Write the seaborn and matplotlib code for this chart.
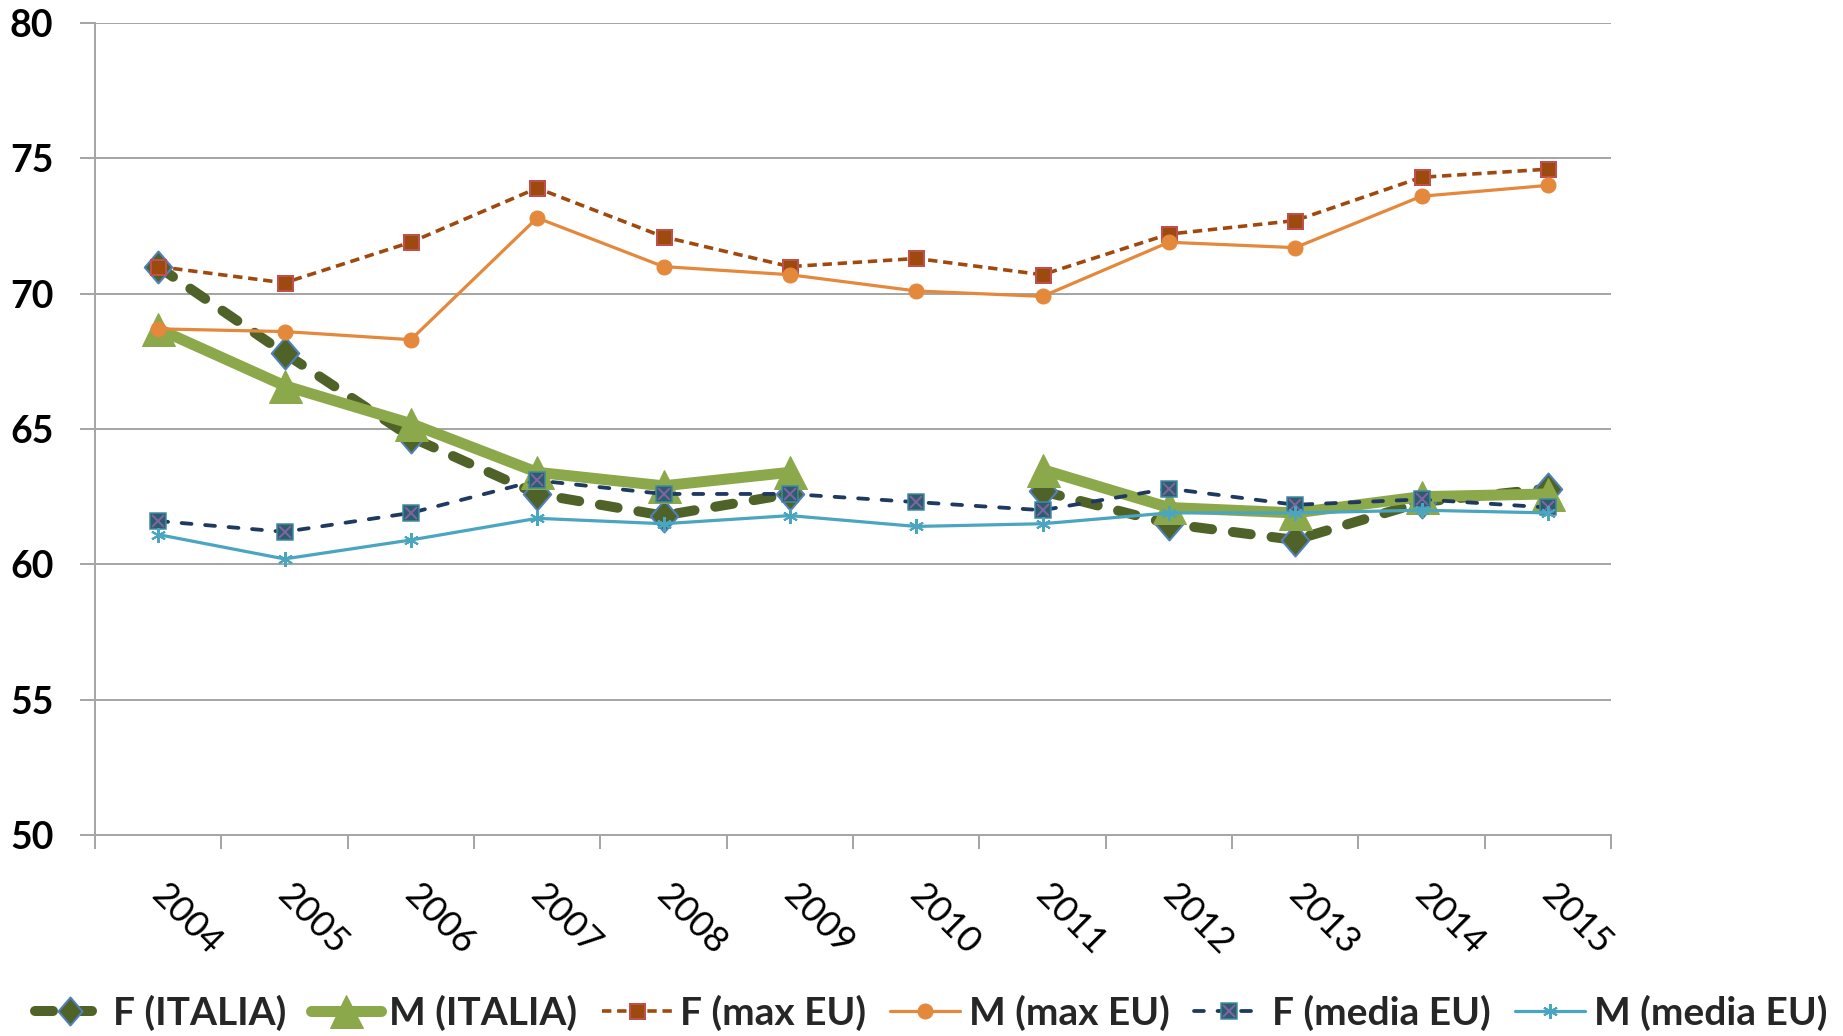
import numpy as np
import pandas as pd
import matplotlib
matplotlib.use("Agg")
import matplotlib.pyplot as plt
import matplotlib.transforms as mtransforms
from matplotlib.lines import Line2D
from matplotlib.path import Path
import seaborn as sns

# ---- data -------------------------------------------------------------
years = [2004, 2005, 2006, 2007, 2008, 2009, 2010, 2011, 2012, 2013, 2014, 2015]
f_italia = [71.0, 67.8, 64.7, 62.6, 61.8, 62.6, np.nan, 62.7, 61.5, 60.9, 62.3, 62.8]
m_italia = [68.7, 66.6, 65.2, 63.4, 62.9, 63.4, np.nan, 63.5, 62.1, 61.9, 62.5, 62.6]
f_max_eu = [71.0, 70.4, 71.9, 73.9, 72.1, 71.0, 71.3, 70.7, 72.2, 72.7, 74.3, 74.6]
m_max_eu = [68.7, 68.6, 68.3, 72.8, 71.0, 70.7, 70.1, 69.9, 71.9, 71.7, 73.6, 74.0]
f_media_eu = [61.6, 61.2, 61.9, 63.1, 62.6, 62.6, 62.3, 62.0, 62.8, 62.2, 62.4, 62.1]
m_media_eu = [61.1, 60.2, 60.9, 61.7, 61.5, 61.8, 61.4, 61.5, 61.9, 61.9, 62.0, 61.9]

series_names = ["F (ITALIA)", "M (ITALIA)", "F (max EU)", "M (max EU)",
                "F (media EU)", "M (media EU)"]
series_values = [f_italia, m_italia, f_max_eu, m_max_eu, f_media_eu, m_media_eu]

frames = []
for name, vals in zip(series_names, series_values):
    v = np.asarray(vals, dtype=float)
    seg = np.cumsum(np.isnan(v))          # break the line where a year is missing
    d = pd.DataFrame({"pos": np.arange(len(years)), "value": v,
                      "series": name, "segment": seg})
    frames.append(d.dropna())
df = pd.concat(frames, ignore_index=True)

# ---- styles -------------------------------------------------------------
PX = 72 / 100  # points per pixel at dpi=100

# slightly tall diamond
diamond = Path([(0, 1), (0.86, 0), (0, -1), (-0.86, 0), (0, 1)],
               [Path.MOVETO, Path.LINETO, Path.LINETO, Path.LINETO, Path.CLOSEPOLY])

styles = {
    "F (ITALIA)": dict(color="#4F6228", linewidth=10 * PX,
                       linestyle=(0, (1.8, 2.1)), dash_capstyle="round",
                       marker=diamond, markersize=32 * PX,
                       markerfacecolor="#4F6228", markeredgecolor="#4F81BD",
                       markeredgewidth=2 * PX),
    "M (ITALIA)": dict(color="#8BA84A", linewidth=11 * PX, linestyle="-",
                       solid_capstyle="round",
                       marker="^", markersize=33 * PX,
                       markerfacecolor="#8BA84A", markeredgecolor="#8BA84A",
                       markeredgewidth=1 * PX),
    "F (max EU)": dict(color="#A0490F", linewidth=3.6 * PX,
                       linestyle=(0, (2.6, 1.6)),
                       marker="s", markersize=15 * PX,
                       markerfacecolor="#9C4A0E", markeredgecolor="#C0504D",
                       markeredgewidth=2 * PX),
    "M (max EU)": dict(color="#E4883C", linewidth=3.2 * PX, linestyle="-",
                       marker="o", markersize=15 * PX,
                       markerfacecolor="#E4883C", markeredgecolor="#E4883C",
                       markeredgewidth=1 * PX),
    "F (media EU)": dict(color="#1F3A60", linewidth=3.8 * PX,
                         linestyle=(0, (2.6, 3.6)), dash_capstyle="round",
                         marker="s", markersize=16 * PX,
                         markerfacecolor="#2D5C6F", markeredgecolor="#3F8BA3",
                         markeredgewidth=1.5 * PX),
    "M (media EU)": dict(color="#4AA5C0", linewidth=3.2 * PX, linestyle="-",
                         marker=(6, 2, 0), markersize=15 * PX,
                         markerfacecolor="#4AA5C0", markeredgecolor="#4AA5C0",
                         markeredgewidth=2 * PX),
}
x_overlay = dict(linestyle="none", marker="x", markersize=12 * PX,
                 markeredgecolor="#8064A2", markeredgewidth=2 * PX, color="#8064A2")

# ---- figure -------------------------------------------------------------
sns.set_theme(style="white")
plt.rcParams["font.family"] = ["Lato", "DejaVu Sans"]

W, H = 1843, 1036
fig = plt.figure(figsize=(W / 100, H / 100), dpi=100)
ax = fig.add_axes([95 / W, 1 - 835 / H, (1611 - 95) / W, (835 - 23) / H])

for name in series_names:
    d = df[df["series"] == name]
    sns.lineplot(data=d, x="pos", y="value", units="segment", estimator=None,
                 sort=False, ax=ax, legend=False, **styles[name])
    if name == "F (media EU)":
        sns.lineplot(data=d, x="pos", y="value", units="segment", estimator=None,
                     sort=False, ax=ax, legend=False, **x_overlay)

# ---- axes ---------------------------------------------------------------
grey = "#A6A6A6"
ax.set_xlim(-0.5, len(years) - 0.5)
ax.set_ylim(50, 80)
ax.set_yticks(np.arange(50, 81, 5))
ax.set_yticklabels([str(v) for v in range(50, 81, 5)], fontsize=27,
                   fontweight="bold", color="black")
ax.yaxis.grid(True, color=grey, linewidth=2 * PX)
ax.xaxis.grid(False)
ax.set_axisbelow(True)

ax.set_xticks(np.arange(len(years)))
ax.set_xticks(np.arange(-0.5, len(years), 1.0), minor=True)
ax.set_xticklabels([str(y) for y in years], fontsize=26, rotation=-45,
                   ha="left", va="top", color="black")
ax.tick_params(axis="x", which="major", length=0, pad=31)
ax.tick_params(axis="x", which="minor", length=14 * PX, width=2 * PX,
               color=grey, direction="out", bottom=True)
ax.tick_params(axis="y", which="major", length=15 * PX, width=2 * PX,
               color=grey, direction="out", left=True, pad=19)
shift = mtransforms.ScaledTranslation(-13 / 100, 0, fig.dpi_scale_trans)
for lab in ax.get_xticklabels():
    lab.set_transform(lab.get_transform() + shift)

ax.set_xlabel("")
ax.set_ylabel("")
for side in ("top", "right"):
    ax.spines[side].set_visible(False)
for side in ("left", "bottom"):
    ax.spines[side].set_color(grey)
    ax.spines[side].set_linewidth(2 * PX)

# ---- legend -------------------------------------------------------------
handles = []
for name in series_names:
    st = dict(styles[name])
    if name == "F (ITALIA)":
        st["markersize"] = 28 * PX
    h = Line2D([], [], **st)
    if name == "F (media EU)":
        h = (h, Line2D([], [], **x_overlay))
    handles.append(h)

fig.legend(handles, series_names, loc="center",
           bbox_to_anchor=(931 / W, 1 - 1013 / H), ncol=6, frameon=False,
           prop={"family": ["Lato", "DejaVu Sans"], "weight": "bold", "size": 28},
           handlelength=1.8, handletextpad=0.22, columnspacing=0.62,
           numpoints=1, borderpad=0, borderaxespad=0)

fig.savefig("out.png", dpi=100, facecolor="white")
